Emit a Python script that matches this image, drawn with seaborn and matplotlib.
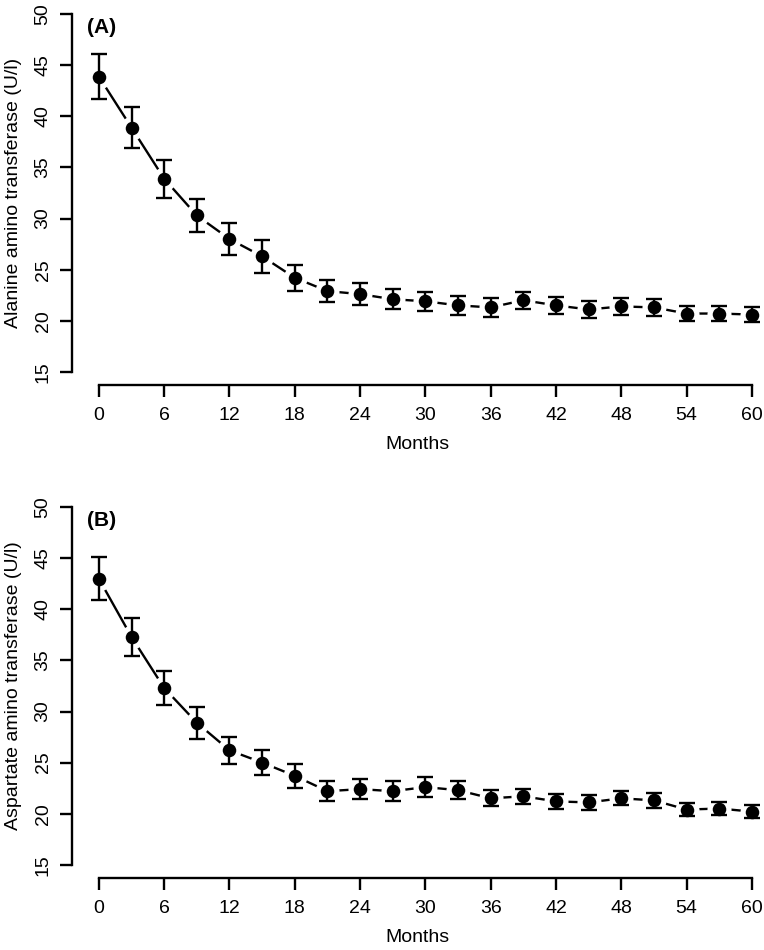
import matplotlib
matplotlib.use("Agg")
import matplotlib.pyplot as plt
import pandas as pd
import seaborn as sns

# data
months = [0, 3, 6, 9, 12, 15, 18, 21, 24, 27, 30, 33, 36, 39, 42, 45, 48, 51, 54, 57, 60]

alt_mean = [43.9, 38.9, 33.9, 30.3, 28.0, 26.3, 24.2, 22.9, 22.6, 22.1, 21.9,
            21.5, 21.3, 22.0, 21.5, 21.1, 21.4, 21.3, 20.7, 20.7, 20.6]
alt_err = [2.2, 2.0, 1.85, 1.6, 1.55, 1.6, 1.3, 1.1, 1.1, 1.0, 0.95,
           0.9, 0.9, 0.85, 0.85, 0.8, 0.8, 0.8, 0.75, 0.75, 0.7]

ast_mean = [43.0, 37.3, 32.3, 28.9, 26.2, 25.0, 23.7, 22.2, 22.4, 22.2, 22.6,
            22.3, 21.5, 21.7, 21.2, 21.1, 21.5, 21.3, 20.4, 20.5, 20.2]
ast_err = [2.1, 1.85, 1.7, 1.55, 1.3, 1.2, 1.15, 1.0, 0.95, 0.95, 0.95,
           0.85, 0.8, 0.75, 0.75, 0.7, 0.7, 0.7, 0.6, 0.6, 0.6]

xticks = list(range(0, 61, 6))
yticks = [15, 20, 25, 30, 35, 40, 45, 50]

sns.set_style("ticks")
plt.rcParams['font.family'] = ['Liberation Sans', 'DejaVu Sans']
plt.rcParams['text.color'] = 'black'
plt.rcParams['axes.labelcolor'] = 'black'
plt.rcParams['xtick.color'] = 'black'
plt.rcParams['ytick.color'] = 'black'

fig = plt.figure(figsize=(7.64, 9.5), dpi=100)
axA = fig.add_axes([0.0938, 0.5947, 0.906, 0.4053])
axB = fig.add_axes([0.0938, 0.0758, 0.906, 0.4053])


def panel(ax, mean, err, ylabel, tag):
    df = pd.DataFrame({"Months": months, "value": mean})
    # solid line, broken around the points (like R type="b")
    sns.lineplot(data=df, x="Months", y="value", ax=ax, color="black",
                 linewidth=1.7, zorder=1)
    sns.scatterplot(data=df, x="Months", y="value", ax=ax, color="white",
                    s=300, linewidth=0, zorder=2, clip_on=False)
    ax.errorbar(months, mean, yerr=err, fmt="none", ecolor="black",
                elinewidth=1.7, capsize=5.5, capthick=1.7, zorder=3, clip_on=False)
    sns.scatterplot(data=df, x="Months", y="value", ax=ax, color="black",
                    s=95, linewidth=0, zorder=4, clip_on=False)

    ax.set_xlim(-2.5, 61.1)
    ax.set_ylim(13.7, 51.4)
    ax.set_xticks(xticks)
    ax.set_yticks(yticks)
    ax.set_yticklabels([str(t) for t in yticks], rotation=90, ha="right", va="center")
    ax.spines["top"].set_visible(False)
    ax.spines["right"].set_visible(False)
    ax.spines["left"].set_bounds(15, 50)
    ax.spines["bottom"].set_bounds(0, 60)
    for s in ("left", "bottom"):
        ax.spines[s].set_linewidth(1.7)
        ax.spines[s].set_color("black")
    ax.tick_params(axis="both", length=8.5, width=1.7, labelsize=14,
                   color="black", labelcolor="black")
    ax.tick_params(axis="x", pad=7)
    ax.tick_params(axis="y", pad=6)
    ax.set_xlabel("Months", fontsize=14, labelpad=9)
    ax.set_ylabel(ylabel, fontsize=14, labelpad=9)
    ax.text(-1.1, 48.7, tag, fontsize=15, fontweight="bold", va="center", ha="left")
    ax.set_facecolor("white")


panel(axA, alt_mean, alt_err, "Alanine amino transferase (U/l)", "(A)")
panel(axB, ast_mean, ast_err, "Aspartate amino transferase (U/l)", "(B)")

fig.savefig("out.png", dpi=100, facecolor="white")
